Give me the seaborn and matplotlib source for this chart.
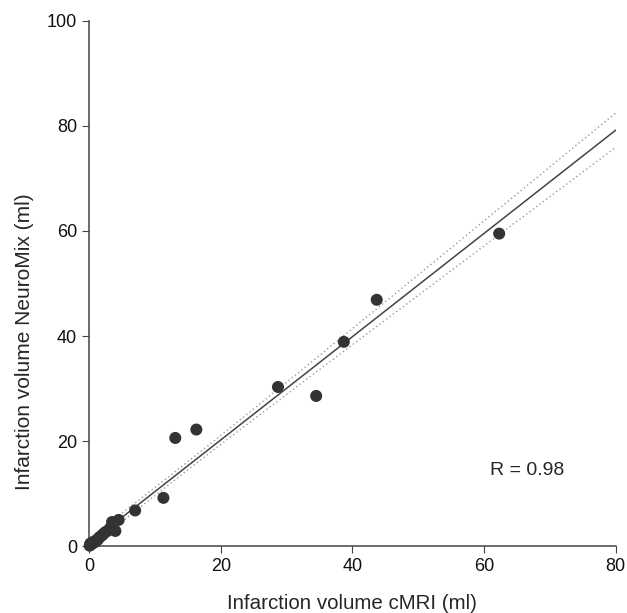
import numpy as np
import pandas as pd
import matplotlib
matplotlib.use("Agg")
import matplotlib.pyplot as plt
import seaborn as sns

cmri = [62.3, 43.7, 38.7, 34.5, 28.7, 16.3, 13.1, 11.3, 7.0, 4.5, 4.0, 3.5,
        3.2, 2.8, 2.4, 2.1, 1.8, 1.5, 1.3, 1.0, 0.8, 0.6, 0.4, 0.2, 0.1]
neuromix = [59.5, 46.9, 38.9, 28.6, 30.3, 22.2, 20.6, 9.2, 6.8, 5.0, 2.9, 4.6,
            3.4, 2.9, 2.6, 2.2, 1.9, 1.6, 1.2, 1.0, 0.7, 0.8, 0.4, 0.5, 0.1]
r_text = "R = 0.98"

df = pd.DataFrame({"cMRI": cmri, "NeuroMix": neuromix})

sns.set_style("ticks")
plt.rcParams['font.family'] = ['Liberation Sans', 'DejaVu Sans']

fig = plt.figure(figsize=(6.27, 6.13), dpi=100)
ax = fig.add_axes([0.142, 0.109, 0.840, 0.857])
ax.set_xlim(0, 80)
ax.set_ylim(0, 100)

sns.regplot(data=df, x="cMRI", y="NeuroMix", ax=ax, ci=None, truncate=False,
            scatter_kws=dict(s=75, color="#333333", alpha=1, edgecolor="none",
                             clip_on=False, zorder=3),
            line_kws=dict(color="#444444", lw=1.1))

# confidence band around the fitted line
x = np.asarray(cmri); y = np.asarray(neuromix)
n = len(x)
b, a = np.polyfit(x, y, 1)
res = y - (a + b * x)
s = np.sqrt(np.sum(res ** 2) / (n - 2))
xs = np.linspace(0, 80, 200)
se = s * np.sqrt(1 / n + (xs - x.mean()) ** 2 / np.sum((x - x.mean()) ** 2))
t = 1.5
yhat = a + b * xs
ax.plot(xs, yhat + t * se, ls=(0, (1, 2)), color="#999999", lw=1.0)
ax.plot(xs, yhat - t * se, ls=(0, (1, 2)), color="#999999", lw=1.0)

ax.set_xlim(0, 80)
ax.set_ylim(0, 100)
ax.set_xticks([0, 20, 40, 60, 80])
ax.set_yticks([0, 20, 40, 60, 80, 100])
ax.tick_params(labelsize=13, length=5, color="#444444", colors="#111111")
for sp in ["left", "bottom"]:
    ax.spines[sp].set_color("#444444")
    ax.spines[sp].set_linewidth(1.1)
sns.despine(ax=ax)
ax.set_xlabel("Infarction volume cMRI (ml)", fontsize=14.8, labelpad=14)
ax.set_ylabel("Infarction volume NeuroMix (ml)", fontsize=15)
ax.yaxis.set_label_coords(-0.105, 0.39)
ax.text(66.5, 14.5, r_text, fontsize=14, ha="center", va="center")

fig.savefig("out.png", dpi=100)
